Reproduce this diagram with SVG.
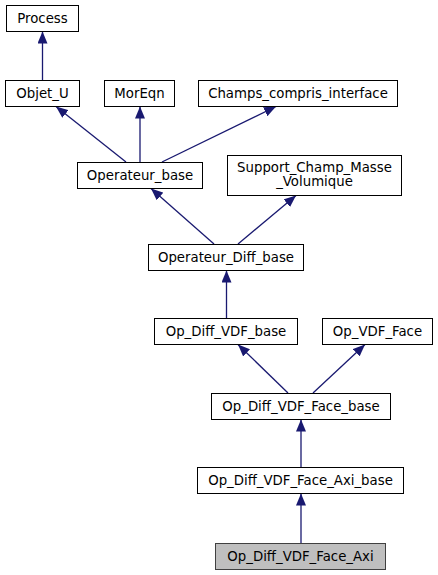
<svg xmlns="http://www.w3.org/2000/svg" width="438" height="575" viewBox="0 0 438 575">
<style>
.n rect{fill:#ffffff;stroke:#000000;stroke-width:1}
.n.f rect{fill:#bfbfbf;stroke:#404040}
.n text{font-family:"DejaVu Sans",sans-serif;font-size:13.3px;fill:#000000;text-anchor:middle}
.e path{fill:none;stroke:#191970;stroke-width:1.3;marker-end:url(#ah)}
</style>
<defs>
<marker id="ah" markerUnits="userSpaceOnUse" markerWidth="12" markerHeight="10" refX="12" refY="5" orient="auto">
<polygon points="0,0 12,5 0,10" fill="#191970"/>
</marker>
</defs>
<rect x="0" y="0" width="438" height="575" fill="#ffffff"/>
<g id="edges" class="e">
<path d="M42.5,80 L42.5,31.5"/>
<path d="M126,162 L56,106.5"/>
<path d="M140,162 L140,106.5"/>
<path d="M162,162 L276,106.5"/>
<path d="M214,244 L151,188.5"/>
<path d="M238,244 L296,195.5"/>
<path d="M226.5,318 L226.5,270.5"/>
<path d="M288,393 L238,344.5"/>
<path d="M313,393 L365,344.5"/>
<path d="M301,467 L301,419.5"/>
<path d="M301,543 L301,493.5"/>
</g>
<g id="Process" class="n"><rect x="6.5" y="5.5" width="72" height="26"/><text x="42.5" y="22.5">Process</text></g>
<g id="Objet_U" class="n"><rect x="5.5" y="80.5" width="74" height="26"/><text x="42.5" y="97.5">Objet_U</text></g>
<g id="MorEqn" class="n"><rect x="104.5" y="80.5" width="70" height="26"/><text x="139.5" y="97.5">MorEqn</text></g>
<g id="Champs_compris_interface" class="n"><rect x="198.5" y="80.5" width="199" height="26"/><text x="298" y="97.5">Champs_compris_interface</text></g>
<g id="Operateur_base" class="n"><rect x="77.5" y="162.5" width="125" height="26"/><text x="140" y="179.5">Operateur_base</text></g>
<g id="Support_Champ_Masse_Volumique" class="n"><rect x="227.5" y="155.5" width="174" height="40"/><text x="314.5" y="172">Support_Champ_Masse</text><text x="314.5" y="186">_Volumique</text></g>
<g id="Operateur_Diff_base" class="n"><rect x="148.5" y="244.5" width="155" height="26"/><text x="226" y="261.5">Operateur_Diff_base</text></g>
<g id="Op_Diff_VDF_base" class="n"><rect x="154.5" y="318.5" width="143" height="26"/><text x="226" y="335.5">Op_Diff_VDF_base</text></g>
<g id="Op_VDF_Face" class="n"><rect x="322.5" y="318.5" width="110" height="26"/><text x="377.5" y="335.5">Op_VDF_Face</text></g>
<g id="Op_Diff_VDF_Face_base" class="n"><rect x="211.5" y="393.5" width="179" height="26"/><text x="301" y="410.5">Op_Diff_VDF_Face_base</text></g>
<g id="Op_Diff_VDF_Face_Axi_base" class="n"><rect x="197.5" y="467.5" width="206" height="26"/><text x="300.5" y="484.5">Op_Diff_VDF_Face_Axi_base</text></g>
<g id="Op_Diff_VDF_Face_Axi" class="n f"><rect x="215.5" y="543.5" width="170" height="26"/><text x="300.5" y="560.5">Op_Diff_VDF_Face_Axi</text></g>
</svg>
